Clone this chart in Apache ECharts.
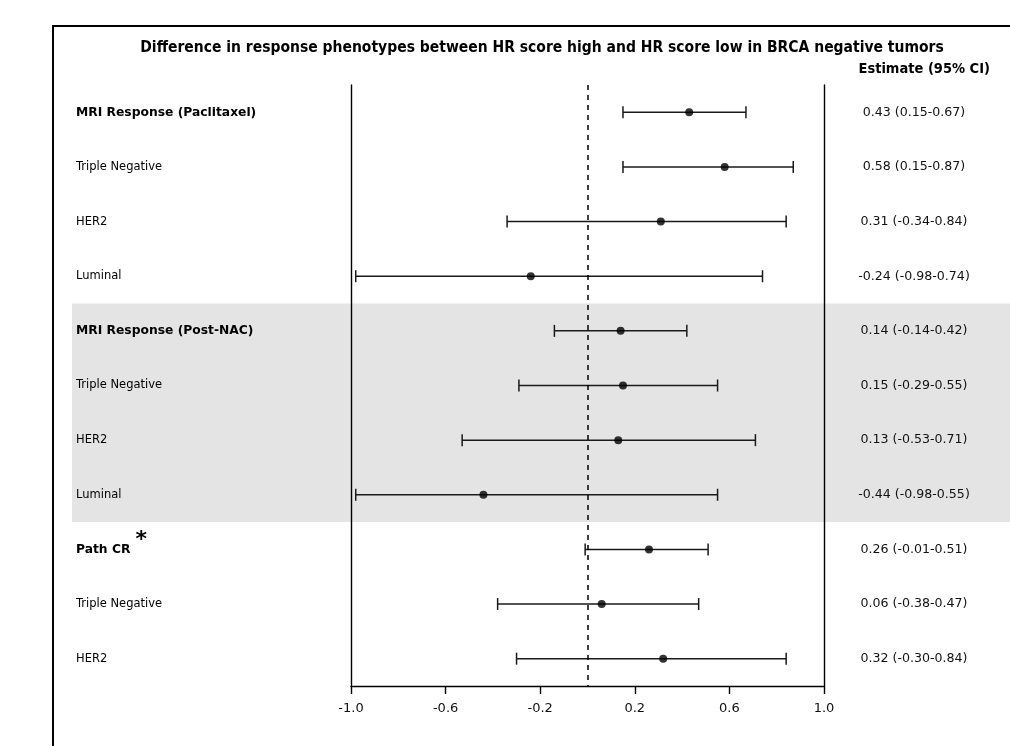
<!DOCTYPE html>
<html><head><meta charset="utf-8">
<script src="https://cdn.jsdelivr.net/npm/echarts@6/dist/echarts.min.js"></script>
<style>html,body{margin:0;padding:0;background:#fff}#c{width:1010px;height:746px}</style>
</head><body><div id="c"></div>
<script>
const titleText = 'Difference in response phenotypes between HR score high and HR score low in BRCA negative tumors';
const colHeader = 'Estimate (95% CI)';
const rowLabels = ['MRI Response (Paclitaxel)', 'Triple Negative', 'HER2', 'Luminal',
  'MRI Response (Post-NAC)', 'Triple Negative', 'HER2', 'Luminal',
  'Path CR', 'Triple Negative', 'HER2'];
const headerRows = [true, false, false, false, true, false, false, false, true, false, false];
const sigRows = [false, false, false, false, false, false, false, false, true, false, false];
const estimates = [0.43, 0.58, 0.31, -0.24, 0.14, 0.15, 0.13, -0.44, 0.26, 0.06, 0.32];
const lower = [0.15, 0.15, -0.34, -0.98, -0.14, -0.29, -0.53, -0.98, -0.01, -0.38, -0.30];
const upper = [0.67, 0.87, 0.84, 0.74, 0.42, 0.55, 0.71, 0.55, 0.51, 0.47, 0.84];
const xTickValues = [-1.0, -0.6, -0.2, 0.2, 0.6, 1.0];
const shadedRows = [4, 7];
const refLine = 0;

const ciText = estimates.map((e, i) => e.toFixed(2) + ' (' + lower[i].toFixed(2) + '-' + upper[i].toFixed(2) + ')');
const cats = rowLabels.map((l, i) => String(i));
const tickStep = xTickValues[1] - xTickValues[0];

const chart = echarts.init(document.getElementById('c'), null, {renderer: 'canvas'});
const blackLine = {color: '#000', width: 1.4};
const condFont = '"DejaVu Sans Condensed", "DejaVu Sans"';
chart.setOption({
  animation: false,
  backgroundColor: '#fff',
  title: [
    {text: titleText, left: 542, top: 40, textAlign: 'center', padding: 0,
     textStyle: {fontFamily: condFont, fontWeight: 'bold', fontSize: 15.5, color: '#000'}},
    {text: colHeader, right: 20, top: 62, padding: 0,
     textStyle: {fontFamily: condFont, fontWeight: 'bold', fontSize: 14.5, color: '#000'}}
  ],
  graphic: [{
    type: 'polyline', shape: {points: [[53, 746], [53, 26], [1010, 26]]},
    style: {stroke: '#000', lineWidth: 2, fill: null}, z: 100
  }],
  grid: [
    {left: 72, right: 0, top: 85, bottom: 60},
    {left: 351, right: 186, top: 85, bottom: 60}
  ],
  xAxis: [
    {gridIndex: 0, type: 'value', min: 0, max: 1, show: false},
    {gridIndex: 1, type: 'value', min: xTickValues[0], max: xTickValues[xTickValues.length - 1], interval: tickStep,
     axisLine: {show: true, lineStyle: blackLine},
     axisTick: {show: true, length: 8, lineStyle: blackLine},
     splitLine: {show: false},
     axisLabel: {margin: 16, formatter: v => v.toFixed(1), fontFamily: 'DejaVu Sans', fontSize: 13, color: '#111'}}
  ],
  yAxis: [
    {gridIndex: 0, type: 'category', data: cats, inverse: true, show: false},
    {gridIndex: 1, type: 'category', data: cats, inverse: true, position: 'left',
     axisLine: {show: true, onZero: false, lineStyle: blackLine},
     axisTick: {show: false},
     axisLabel: {
       align: 'left', margin: 275,
       formatter: (v) => {
         const idx = Number(v);
         if (headerRows[idx]) return '{b|' + rowLabels[idx] + '}' + (sigRows[idx] ? '{s|*}' : '');
         return '{n|' + rowLabels[idx] + '}';
       },
       rich: {
         b: {fontFamily: 'DejaVu Sans', fontWeight: 'bold', fontSize: 12.3, color: '#000'},
         n: {fontFamily: 'DejaVu Sans', fontSize: 11.5, color: '#000'},
         s: {fontFamily: 'DejaVu Sans', fontWeight: 'bold', fontSize: 22, color: '#000', padding: [0, 0, 18, 5], verticalAlign: 'bottom'}
       }
     }},
    {gridIndex: 1, type: 'category', data: cats, inverse: true, position: 'right',
     axisLine: {show: true, onZero: false, lineStyle: blackLine},
     axisTick: {show: false},
     axisLabel: {align: 'center', margin: 90, formatter: (v) => ciText[Number(v)],
       fontFamily: 'DejaVu Sans', fontSize: 12.6, color: '#111'}}
  ],
  series: [
    {
      type: 'custom', xAxisIndex: 0, yAxisIndex: 0, z: -1, silent: true,
      data: [[0, shadedRows[0], shadedRows[1]]],
      encode: {x: 0, y: 1},
      renderItem: (params, api) => {
        const half = api.size([0, 1])[1] / 2;
        const y0 = api.coord([0, api.value(1)])[1] - half;
        const y1 = api.coord([0, api.value(2)])[1] + half;
        const cs = params.coordSys;
        return {type: 'rect', shape: {x: cs.x, y: y0, width: cs.width, height: y1 - y0}, style: {fill: '#e4e4e4'}};
      }
    },
    {
      type: 'custom', xAxisIndex: 1, yAxisIndex: 1, silent: true,
      data: rowLabels.map((l, i) => [i, lower[i], upper[i]]),
      encode: {y: 0, x: [1, 2]},
      renderItem: (params, api) => {
        const idx = api.value(0);
        const pl = api.coord([api.value(1), idx]);
        const ph = api.coord([api.value(2), idx]);
        const cap = 6;
        const st = {stroke: '#1a1a1a', lineWidth: 1.5};
        return {type: 'group', children: [
          {type: 'line', shape: {x1: pl[0], y1: pl[1], x2: ph[0], y2: ph[1]}, style: st},
          {type: 'line', shape: {x1: pl[0], y1: pl[1] - cap, x2: pl[0], y2: pl[1] + cap}, style: st},
          {type: 'line', shape: {x1: ph[0], y1: ph[1] - cap, x2: ph[0], y2: ph[1] + cap}, style: st}
        ]};
      }
    },
    {
      type: 'scatter', xAxisIndex: 1, yAxisIndex: 1, silent: true,
      data: estimates.map((e, i) => [e, i]),
      symbol: 'circle', symbolSize: 8,
      itemStyle: {color: '#000'},
      markLine: {
        silent: true, symbol: ['none', 'none'], label: {show: false},
        lineStyle: {type: [5, 5], color: '#000', width: 1.5},
        data: [{xAxis: refLine}]
      }
    }
  ]
});
</script>
</body></html>
